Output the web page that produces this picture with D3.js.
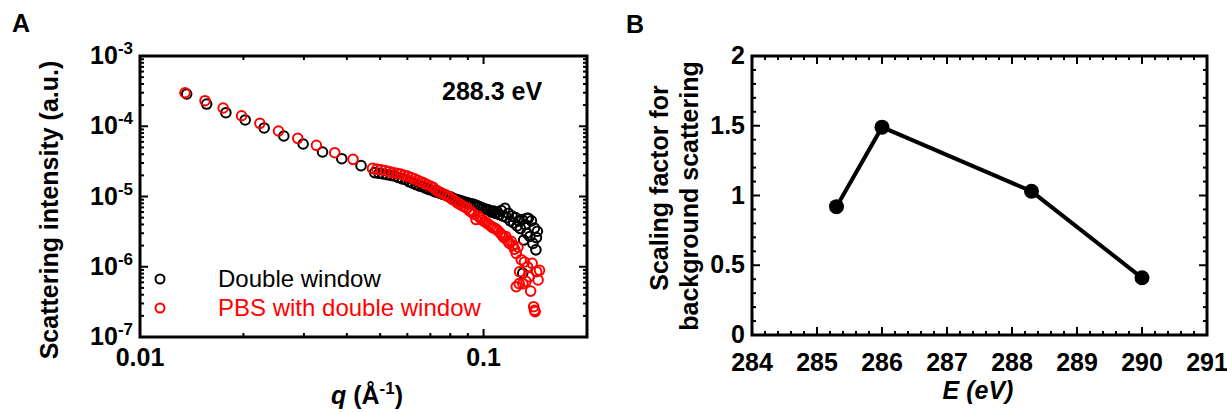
<!DOCTYPE html>
<html><head><meta charset="utf-8">
<script src="https://cdn.jsdelivr.net/npm/d3@7"></script>
<style>
body{margin:0;background:#fff}
text{font-family:"Liberation Sans",Arial,sans-serif}
</style>
</head><body>
<svg id="c" width="1227" height="412"></svg>
<script>
// ---------- Panel A data ----------
const qDoubleWindow = [0.01367,0.01563,0.01778,0.02024,0.02298,0.02622,0.02984,0.03398,0.03866,0.04399,
0.0482,0.0496,0.0510,0.0524,0.0538,0.0552,0.0566,0.0580,0.0594,0.0608,0.0622,0.0636,0.0650,0.0664,0.0678,0.0692,0.0706,0.0720,0.0734,0.0748,
0.0762,0.0776,0.0790,0.0804,0.0818,0.0832,0.0846,0.0860,0.0874,0.0888,0.0902,0.0916,0.0930,0.0944,0.0958,0.0972,0.0986,0.1000,0.1014,0.1028,
0.1042,0.1056,0.1070,0.1084,0.1098,0.1112,0.1126,0.1140,0.1154,0.1168,0.1182,0.1196,0.1210,0.1224,0.1238,0.1252,0.1266,0.1280,0.1294,0.1308,
0.1322,0.1336,0.1350,0.1364,0.1378,0.1392,0.1406,0.1420,0.1434,0.1300,0.1337,0.1425];
const iDoubleWindow = [2.88e-4,2.07e-4,1.56e-4,1.23e-4,9.45e-5,7.27e-5,5.59e-5,4.30e-5,3.45e-5,2.75e-5,
2.19e-5,2.14e-5,2.09e-5,2.04e-5,2.00e-5,1.95e-5,1.86e-5,1.78e-5,1.74e-5,1.62e-5,1.55e-5,1.48e-5,1.41e-5,1.38e-5,1.32e-5,1.26e-5,1.23e-5,1.17e-5,1.15e-5,1.11e-5,
1.07e-5,1.05e-5,1.00e-5,9.8e-6,9.3e-6,9.1e-6,8.9e-6,8.7e-6,8.4e-6,8.3e-6,8.1e-6,7.9e-6,7.8e-6,7.6e-6,7.4e-6,7.2e-6,6.9e-6,6.8e-6,6.6e-6,6.5e-6,
6.3e-6,6.0e-6,6.2e-6,5.75e-6,6.0e-6,5.5e-6,6.3e-6,5.25e-6,6.8e-6,5.0e-6,5.75e-6,4.5e-6,5.25e-6,4.2e-6,5.0e-6,3.8e-6,4.5e-6,3.5e-6,4.7e-6,2.4e-6,
4.0e-6,3.0e-6,4.9e-6,2.7e-6,4.5e-6,2.15e-6,3.55e-6,1.74e-6,3.2e-6,8.1e-7,4.9e-6,2.6e-6];

const qPBS = [0.01352,0.01546,0.01746,0.01975,0.02233,0.0253,0.02878,0.03262,0.03689,0.04169,
0.0475,0.0489,0.0503,0.0517,0.0531,0.0545,0.0559,0.0573,0.0587,0.0601,0.0615,0.0629,0.0643,0.0657,0.0671,0.0685,0.0699,0.0713,0.0727,0.0741,
0.0755,0.0769,0.0783,0.0797,0.0811,0.0825,0.0839,0.0853,0.0867,0.0881,0.0895,0.0909,0.0923,0.0937,0.0951,0.0965,0.0979,0.0993,0.1007,0.1021,
0.1035,0.1049,0.1063,0.1077,0.1091,0.1105,0.1119,0.1133,0.1147,0.1161,0.1175,0.1189,0.1203,0.1217,0.1231,0.1245,0.1259,0.1273,0.1287,0.1301,
0.1315,0.1329,0.1343,0.1357,0.1371,0.1385,0.1399,0.1413,0.1427,0.1441,0.1455,0.1245,0.1270,0.1407];
const iPBS = [3.0e-4,2.31e-4,1.82e-4,1.41e-4,1.10e-4,8.56e-5,6.73e-5,5.36e-5,4.2e-5,3.38e-5,
2.51e-5,2.45e-5,2.40e-5,2.34e-5,2.26e-5,2.19e-5,2.14e-5,2.09e-5,2.00e-5,1.95e-5,1.86e-5,1.78e-5,1.70e-5,1.62e-5,1.55e-5,1.48e-5,1.41e-5,1.35e-5,1.24e-5,1.17e-5,
1.12e-5,1.07e-5,1.02e-5,9.8e-6,9.1e-6,8.7e-6,8.1e-6,7.8e-6,7.4e-6,7.1e-6,6.8e-6,6.3e-6,6.0e-6,5.6e-6,4.7e-6,5.25e-6,4.9e-6,4.6e-6,4.4e-6,4.2e-6,
4.0e-6,3.8e-6,3.6e-6,3.55e-6,3.4e-6,3.2e-6,3.0e-6,2.8e-6,2.6e-6,2.7e-6,2.35e-6,2.15e-6,2.3e-6,2.0e-6,1.78e-6,1.55e-6,1.9e-6,8.5e-7,1.26e-6,5.75e-7,
1.17e-6,6.2e-7,1.0e-6,7.2e-7,4.5e-7,1.12e-6,2.7e-7,2.3e-7,8.5e-7,6.5e-7,8.9e-7,5.2e-7,5.75e-7,2.4e-7];

const xTicksA = [0.01, 0.1];
const xTickLabelsA = ["0.01", "0.1"];
const yTicksA = [1e-7, 1e-6, 1e-5, 1e-4, 1e-3];
const yTickExpA = ["-7", "-6", "-5", "-4", "-3"];
const seriesNamesA = ["Double window", "PBS with double window"];
const seriesColorsA = ["#000000", "#ff0000"];

// ---------- Panel B data ----------
const energies = [285.3, 286.0, 288.3, 290.0];
const scalingFactors = [0.92, 1.49, 1.03, 0.41];
const xTicksB = [284, 285, 286, 287, 288, 289, 290, 291];
const yTicksB = [0, 0.5, 1, 1.5, 2];
const yTickLabelsB = ["0", "0.5", "1", "1.5", "2"];

const svg = d3.select("#c");
const FS = 25;

function ticks(g, scale, vals, orient, pos, len) {
  vals.forEach(v => {
    const p = scale(v);
    if (orient === "bottom") g.append("line").attr("x1", p).attr("x2", p).attr("y1", pos).attr("y2", pos - len);
    if (orient === "top") g.append("line").attr("x1", p).attr("x2", p).attr("y1", pos).attr("y2", pos + len);
    if (orient === "left") g.append("line").attr("y1", p).attr("y2", p).attr("x1", pos).attr("x2", pos + len);
    if (orient === "right") g.append("line").attr("y1", p).attr("y2", p).attr("x1", pos).attr("x2", pos - len);
  });
}

// ================= Panel A =================
const xA = d3.scaleLog().domain([0.01, 0.2]).range([140, 587]);
const yA = d3.scaleLog().domain([1e-7, 1e-3]).range([337, 56]);
const gA = svg.append("g");

const rowsBlack = qDoubleWindow.map((q, i) => ({q, v: iDoubleWindow[i]}));
const rowsRed = qPBS.map((q, i) => ({q, v: iPBS[i]}));
gA.append("g").selectAll("circle").data(rowsBlack).join("circle")
  .attr("cx", d => xA(d.q)).attr("cy", d => yA(d.v)).attr("r", 4.8)
  .attr("fill", "none").attr("stroke", seriesColorsA[0]).attr("stroke-width", 2);
gA.append("g").selectAll("circle").data(rowsRed).join("circle")
  .attr("cx", d => xA(d.q)).attr("cy", d => yA(d.v)).attr("r", 4.8)
  .attr("fill", "none").attr("stroke", seriesColorsA[1]).attr("stroke-width", 2);

const tA = gA.append("g").attr("stroke", "#000").attr("stroke-width", 2);
const xMinorA = xA.ticks().filter(v => !xTicksA.includes(v));
const yMinorA = yA.ticks().filter(v => !yTicksA.some(t => Math.abs(t - v) / v < 1e-6));
ticks(tA, xA, xTicksA, "bottom", 337, 8); ticks(tA, xA, xMinorA, "bottom", 337, 4);
ticks(tA, xA, xTicksA, "top", 56, 8); ticks(tA, xA, xMinorA, "top", 56, 4);
ticks(tA, yA, yTicksA, "left", 140, 8); ticks(tA, yA, yMinorA, "left", 140, 4);
ticks(tA, yA, yTicksA, "right", 587, 8); ticks(tA, yA, yMinorA, "right", 587, 4);
gA.append("rect").attr("x", 140).attr("y", 56).attr("width", 447).attr("height", 281)
  .attr("fill", "none").attr("stroke", "#000").attr("stroke-width", 3);

xTicksA.forEach((v, i) => gA.append("text").attr("x", xA(v)).attr("y", 366).attr("text-anchor", "middle")
  .attr("font-size", FS).attr("font-weight", "bold").text(xTickLabelsA[i]));
yTicksA.forEach((v, i) => {
  const t = gA.append("text").attr("x", 133).attr("y", yA(v) + 8).attr("text-anchor", "end")
    .attr("font-size", FS).attr("font-weight", "bold");
  t.append("tspan").text("10");
  t.append("tspan").attr("dy", -10).attr("font-size", 17).text(yTickExpA[i]);
});

gA.append("text").attr("transform", "translate(58,210) rotate(-90)").attr("text-anchor", "middle")
  .attr("font-size", FS).attr("font-weight", "bold").text("Scattering intensity (a.u.)");
const xtA = gA.append("text").attr("x", 367).attr("y", 404).attr("text-anchor", "middle")
  .attr("font-size", FS).attr("font-weight", "bold");
xtA.append("tspan").attr("font-style", "italic").text("q");
xtA.append("tspan").text(" (Å");
xtA.append("tspan").attr("dy", -10).attr("font-size", 17).text("-1");
xtA.append("tspan").attr("dy", 10).text(")");

gA.append("text").attr("x", 442).attr("y", 100).attr("font-size", FS).attr("font-weight", "bold").text("288.3 eV");

seriesNamesA.forEach((n, i) => {
  const y = 279 + i * 29;
  gA.append("circle").attr("cx", 160).attr("cy", y).attr("r", 4.5).attr("fill", "none")
    .attr("stroke", seriesColorsA[i]).attr("stroke-width", 2);
  gA.append("text").attr("x", 218).attr("y", y + 8).attr("font-size", 24).attr("fill", seriesColorsA[i]).text(n);
});

svg.append("text").attr("x", 12).attr("y", 32).attr("font-size", 25).attr("font-weight", "bold").text("A");
svg.append("text").attr("x", 626).attr("y", 33).attr("font-size", 25).attr("font-weight", "bold").text("B");

// ================= Panel B =================
const xB = d3.scaleLinear().domain([284, 291]).range([752, 1207]);
const yB = d3.scaleLinear().domain([0, 2]).range([335, 56]);
const gB = svg.append("g");

const tB = gB.append("g").attr("stroke", "#000").attr("stroke-width", 2);
const xMinorB = d3.range(0, 36).map(i => 284 + i * 0.2).filter(v => Math.abs(v - Math.round(v)) > 1e-6);
const yMinorB = d3.range(0, 21).map(i => i * 0.1).filter(v => Math.abs(v * 2 - Math.round(v * 2)) > 1e-6);
ticks(tB, xB, xTicksB, "bottom", 335, 8); ticks(tB, xB, xMinorB, "bottom", 335, 4);
ticks(tB, xB, xTicksB, "top", 56, 8); ticks(tB, xB, xMinorB, "top", 56, 4);
ticks(tB, yB, yTicksB, "left", 752, 8); ticks(tB, yB, yMinorB, "left", 752, 4);
ticks(tB, yB, yTicksB, "right", 1207, 8); ticks(tB, yB, yMinorB, "right", 1207, 4);
gB.append("rect").attr("x", 752).attr("y", 56).attr("width", 455).attr("height", 279)
  .attr("fill", "none").attr("stroke", "#000").attr("stroke-width", 3);

const rowsB = energies.map((e, i) => ({e, s: scalingFactors[i]}));
gB.append("path").datum(rowsB)
  .attr("d", d3.line().x(d => xB(d.e)).y(d => yB(d.s)))
  .attr("fill", "none").attr("stroke", "#000").attr("stroke-width", 4);
gB.append("g").selectAll("circle").data(rowsB).join("circle")
  .attr("cx", d => xB(d.e)).attr("cy", d => yB(d.s)).attr("r", 7.5).attr("fill", "#000");

xTicksB.forEach(v => gB.append("text").attr("x", xB(v)).attr("y", 371).attr("text-anchor", "middle")
  .attr("font-size", FS).attr("font-weight", "bold").text(v));
yTicksB.forEach((v, i) => gB.append("text").attr("x", 745).attr("y", yB(v) + 8).attr("text-anchor", "end")
  .attr("font-size", FS).attr("font-weight", "bold").text(yTickLabelsB[i]));

gB.append("text").attr("transform", "translate(668,188) rotate(-90)").attr("text-anchor", "middle")
  .attr("font-size", FS).attr("font-weight", "bold").text("Scaling factor for");
gB.append("text").attr("transform", "translate(698,196) rotate(-90)").attr("text-anchor", "middle")
  .attr("font-size", FS).attr("font-weight", "bold").text("background scattering");

const xtB = gB.append("text").attr("x", 978).attr("y", 399).attr("text-anchor", "middle")
  .attr("font-size", FS).attr("font-weight", "bold").attr("font-style", "italic");
xtB.append("tspan").text("E");
xtB.append("tspan").text(" (eV)");
</script>
</body></html>
